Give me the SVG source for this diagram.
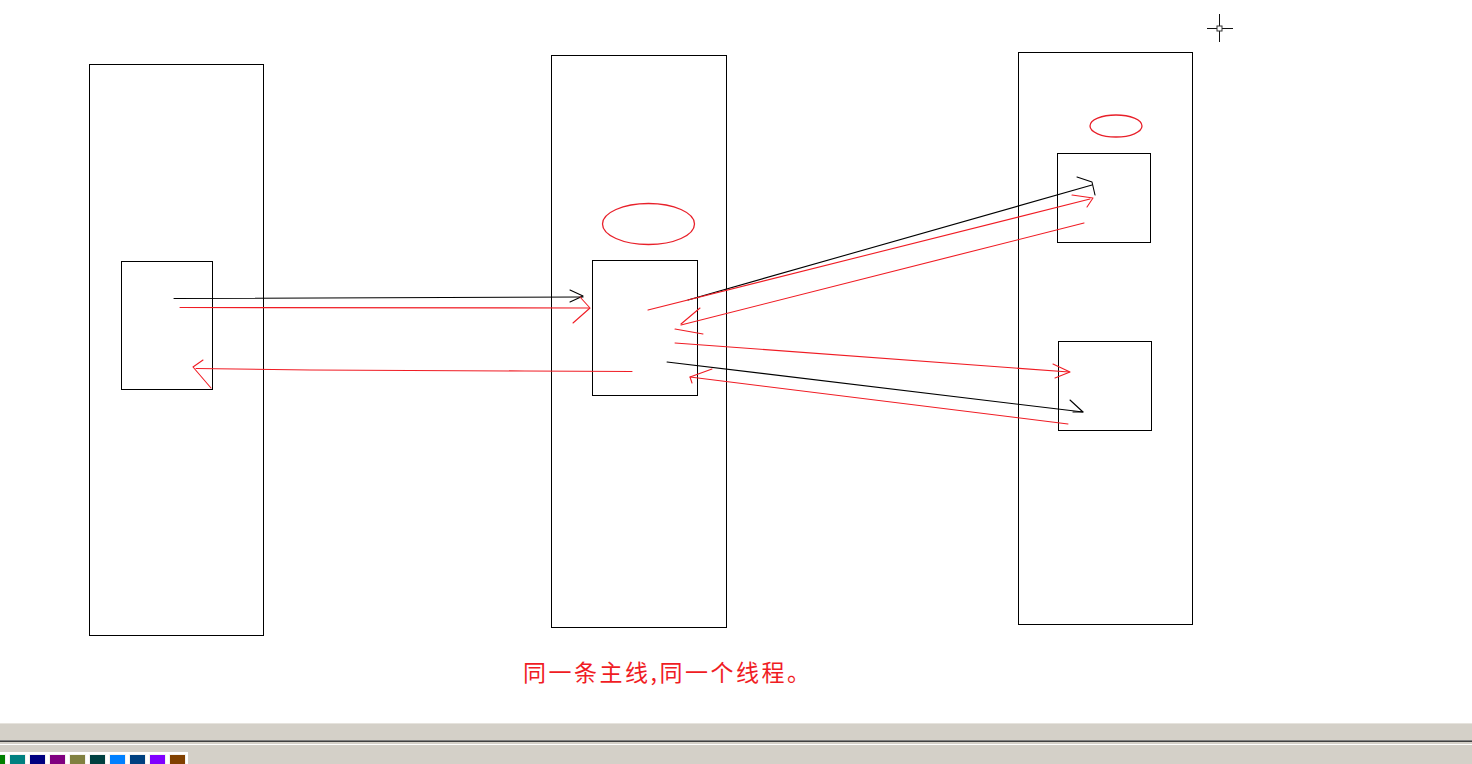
<svg xmlns="http://www.w3.org/2000/svg" width="1472" height="764" viewBox="0 0 1472 764">
  <style>
    .box { fill: none; stroke: #000; stroke-width: 1; }
    .oval { fill: none; stroke: #e8202a; stroke-width: 1.3; }
    .k { fill: none; stroke: #000; stroke-width: 1.1; stroke-linecap: round; stroke-linejoin: round; }
    .r { fill: none; stroke: #f01c24; stroke-width: 1.1; stroke-linecap: round; stroke-linejoin: round; }
    .label { font-family: "Noto Sans CJK SC", "Noto Sans", sans-serif; font-size: 23px; fill: #f01c24; }
    .sw { stroke: #f4f2ee; stroke-width: 1; }
  </style>
  <rect x="0" y="0" width="1472" height="764" fill="#ffffff"/>

  <g id="node-left">
    <rect class="box" x="89.5" y="64.5" width="174" height="571"/>
    <rect class="box" x="121.5" y="261.5" width="91" height="128"/>
  </g>
  <g id="node-middle">
    <rect class="box" x="551.5" y="55.5" width="175" height="572"/>
    <rect class="box" x="592.5" y="260.5" width="105" height="135"/>
    <ellipse class="oval" cx="648.5" cy="224" rx="46" ry="20.5"/>
  </g>
  <g id="node-right">
    <rect class="box" x="1018.5" y="52.5" width="174" height="572"/>
    <rect class="box" x="1057.5" y="153.5" width="93" height="89"/>
    <rect class="box" x="1058.5" y="341.5" width="93" height="89"/>
    <ellipse class="oval" cx="1116" cy="126" rx="26" ry="11"/>
  </g>

  <g id="connectors">
    <!-- left to middle -->
    <path class="k" d="M174,298.5 L583,297"/>
    <path class="k" d="M570,290 L583,296 L570,302"/>
    <path class="r" d="M180,307.5 L589,308"/>
    <path class="r" d="M580,297 L590,308 L573,323"/>
    <!-- middle back to left -->
    <path class="r" d="M632,371.5 L525,371 L310,370 L196,368.5"/>
    <path class="r" d="M203,360 L193,367 L211,388"/>
    <!-- middle to right top -->
    <path class="k" d="M688,300 L1092,185"/>
    <path class="k" d="M1077,177 L1092,182 L1095,195"/>
    <path class="r" d="M648,310 L1090,199"/>
    <path class="r" d="M1072,195 L1093,198 L1087,207"/>
    <path class="r" d="M1084,223 L681,325"/>
    <path class="r" d="M700,308 L681,324"/>
    <!-- middle to right bottom -->
    <path class="r" d="M675,329 L703,334"/>
    <path class="r" d="M675,343 L1069,372"/>
    <path class="r" d="M1053,364 L1070,372 L1055,378"/>
    <path class="k" d="M667,362 L1083,412"/>
    <path class="k" d="M1070,400 L1083,412 L1073,412"/>
    <path class="r" d="M1068,424 L690,377"/>
    <path class="r" d="M712,369 L690,377 L692,383"/>
  </g>

  <text class="label" x="523" y="681" textLength="287" lengthAdjust="spacing">同一条主线,同一个线程。</text>

  <!-- cursor -->
  <g id="cursor">
    <line x1="1207" y1="28.5" x2="1233" y2="28.5" stroke="#111" stroke-width="1"/>
    <line x1="1219.5" y1="14" x2="1219.5" y2="42" stroke="#111" stroke-width="1"/>
    <rect x="1217" y="26" width="5" height="5" fill="#ffffff" stroke="#333" stroke-width="1"/>
  </g>

  <!-- bottom toolbar -->
  <g id="toolbar">
    <rect x="0" y="723" width="1472" height="41" fill="#d4d0c8"/>
    <line x1="0" y1="723.5" x2="1472" y2="723.5" stroke="#e6e3dd"/>
    <line x1="0" y1="740.5" x2="1472" y2="740.5" stroke="#808080"/>
    <line x1="0" y1="741.5" x2="1472" y2="741.5" stroke="#404040"/>
    <line x1="0" y1="744.5" x2="1472" y2="744.5" stroke="#ffffff"/>
    <rect x="0" y="752" width="188" height="12" fill="#ffffff"/>
    <rect class="sw" x="-10.5" y="754.5" width="16" height="12" fill="#008000"/>
    <rect class="sw" x="9.5" y="754.5" width="16" height="12" fill="#008080"/>
    <rect class="sw" x="29.5" y="754.5" width="16" height="12" fill="#000080"/>
    <rect class="sw" x="49.5" y="754.5" width="16" height="12" fill="#800080"/>
    <rect class="sw" x="69.5" y="754.5" width="16" height="12" fill="#808040"/>
    <rect class="sw" x="89.5" y="754.5" width="16" height="12" fill="#004040"/>
    <rect class="sw" x="109.5" y="754.5" width="16" height="12" fill="#0080ff"/>
    <rect class="sw" x="129.5" y="754.5" width="16" height="12" fill="#004080"/>
    <rect class="sw" x="149.5" y="754.5" width="16" height="12" fill="#8000ff"/>
    <rect class="sw" x="169.5" y="754.5" width="16" height="12" fill="#804000"/>
  </g>
</svg>
